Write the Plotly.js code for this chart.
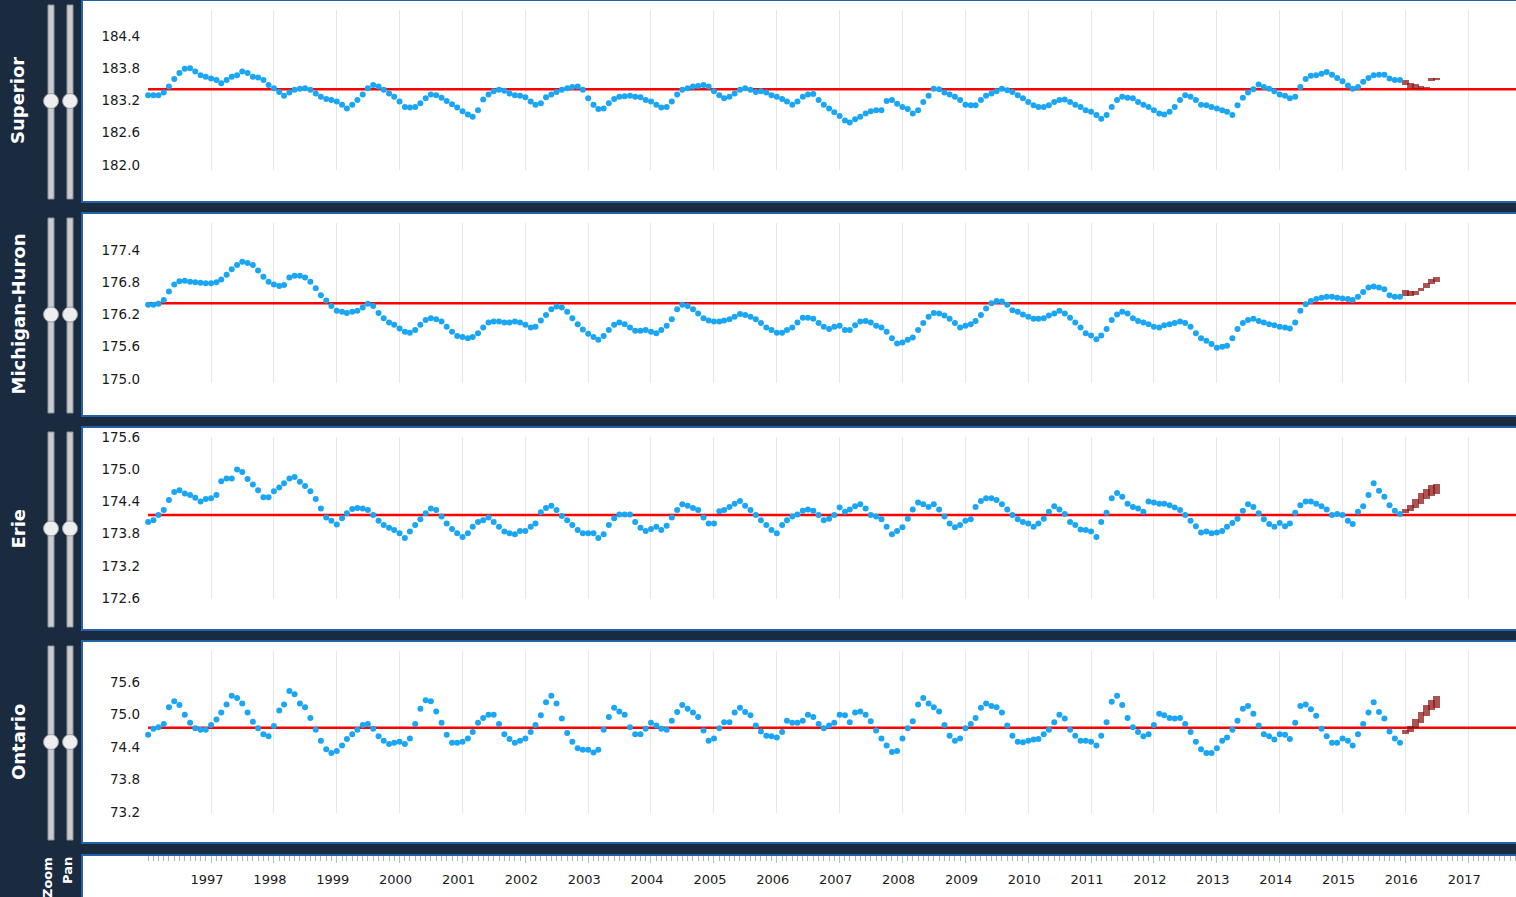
<!DOCTYPE html>
<html><head><meta charset="utf-8">
<script src="https://cdn.plot.ly/plotly-3.0.1.min.js"></script>
<style>html,body{margin:0;padding:0;background:#1b2b3f;overflow:hidden}#chart{width:1516px;height:897px}</style>
</head><body><div id="chart"></div>
<script>
// ---------------- DATA ----------------
const lakeNames = ['Superior', 'Michigan-Huron', 'Erie', 'Ontario'];
const firstYear = 1996;            // monthly observations, Jan 1996 - Dec 2015
const axisEnd = '2017-10-05';
const yearTicks = [1997,1998,1999,2000,2001,2002,2003,2004,2005,2006,2007,2008,2009,2010,2011,2012,2013,2014,2015,2016,2017];
const longTermAverage = [183.41, 176.41, 174.15, 74.76];

const superior = [
183.30,183.30,183.30,183.35,183.46,183.60,183.71,183.79,183.80,183.74,183.67,183.64,
183.61,183.58,183.52,183.58,183.64,183.67,183.74,183.71,183.64,183.63,183.58,183.49,
183.43,183.36,183.29,183.35,183.40,183.42,183.43,183.40,183.33,183.27,183.23,183.21,
183.18,183.12,183.05,183.12,183.21,183.31,183.43,183.49,183.46,183.40,183.33,183.27,
183.18,183.08,183.07,183.08,183.15,183.24,183.31,183.30,183.25,183.19,183.13,183.07,
183.00,182.94,182.90,183.02,183.22,183.31,183.37,183.40,183.38,183.33,183.30,183.29,
183.26,183.18,183.12,183.15,183.26,183.31,183.36,183.40,183.43,183.45,183.46,183.40,
183.24,183.12,183.04,183.05,183.15,183.23,183.27,183.28,183.29,183.27,183.26,183.21,
183.18,183.12,183.07,183.08,183.18,183.31,183.40,183.43,183.46,183.47,183.49,183.46,
183.37,183.30,183.24,183.27,183.33,183.40,183.43,183.40,183.36,183.37,183.35,183.30,
183.27,183.23,183.18,183.12,183.18,183.27,183.31,183.32,183.21,183.12,183.05,182.98,
182.91,182.83,182.79,182.85,182.90,182.96,183.00,183.02,183.02,183.19,183.21,183.14,
183.08,183.04,182.96,183.02,183.17,183.29,183.42,183.41,183.35,183.31,183.27,183.21,
183.12,183.11,183.11,183.21,183.29,183.33,183.37,183.42,183.39,183.36,183.30,183.24,
183.17,183.11,183.08,183.08,183.11,183.17,183.21,183.22,183.17,183.12,183.08,183.02,
182.99,182.93,182.86,182.93,183.08,183.21,183.27,183.25,183.24,183.17,183.12,183.08,
183.02,182.96,182.94,182.99,183.08,183.21,183.30,183.27,183.21,183.12,183.11,183.08,
183.05,183.02,182.99,182.93,183.11,183.25,183.35,183.41,183.50,183.45,183.42,183.37,
183.31,183.29,183.24,183.27,183.45,183.60,183.66,183.67,183.70,183.73,183.68,183.62,
183.56,183.48,183.42,183.45,183.55,183.62,183.67,183.68,183.68,183.61,183.58,183.58];

const michiganHuron = [
176.38,176.38,176.40,176.47,176.63,176.76,176.82,176.83,176.81,176.80,176.79,176.78,
176.78,176.80,176.85,176.94,177.04,177.12,177.18,177.16,177.12,177.02,176.90,176.81,
176.76,176.73,176.75,176.89,176.92,176.92,176.89,176.81,176.69,176.56,176.46,176.36,
176.27,176.25,176.23,176.25,176.27,176.33,176.40,176.36,176.23,176.13,176.05,176.01,
175.94,175.88,175.86,175.91,176.01,176.10,176.13,176.11,176.07,175.97,175.88,175.80,
175.78,175.76,175.78,175.85,175.96,176.05,176.07,176.07,176.05,176.05,176.07,176.05,
176.01,175.96,175.97,176.09,176.19,176.30,176.35,176.33,176.25,176.13,176.02,175.92,
175.84,175.78,175.73,175.80,175.91,176.01,176.05,176.02,175.96,175.90,175.90,175.91,
175.88,175.85,175.91,175.99,176.11,176.30,176.38,176.36,176.30,176.22,176.13,176.09,
176.07,176.07,176.09,176.11,176.16,176.21,176.19,176.16,176.11,176.04,175.96,175.91,
175.86,175.86,175.91,175.96,176.05,176.14,176.14,176.12,176.04,175.97,175.93,175.97,
175.99,175.91,175.91,176.00,176.07,176.08,176.05,175.99,175.96,175.88,175.76,175.66,
175.68,175.73,175.77,175.91,176.04,176.16,176.23,176.22,176.18,176.12,176.04,175.96,
175.99,176.02,176.08,176.19,176.31,176.41,176.45,176.44,176.38,176.28,176.25,176.20,
176.16,176.12,176.12,176.13,176.18,176.22,176.27,176.22,176.14,176.05,175.96,175.85,
175.81,175.74,175.81,175.93,176.10,176.20,176.25,176.22,176.13,176.08,176.05,176.02,
175.97,175.96,176.00,176.02,176.04,176.07,176.04,175.97,175.85,175.76,175.71,175.65,
175.58,175.60,175.62,175.76,175.93,176.04,176.10,176.12,176.08,176.05,176.02,176.00,
175.97,175.96,175.94,176.05,176.27,176.39,176.45,176.49,176.51,176.53,176.53,176.51,
176.50,176.49,176.47,176.53,176.62,176.70,176.72,176.70,176.67,176.56,176.53,176.53];

const erie = [
174.02,174.05,174.15,174.24,174.43,174.58,174.61,174.55,174.52,174.47,174.40,174.45,
174.46,174.52,174.78,174.83,174.83,175.00,174.95,174.82,174.72,174.61,174.48,174.48,
174.59,174.66,174.74,174.83,174.86,174.77,174.69,174.59,174.45,174.27,174.10,174.04,
173.97,174.09,174.18,174.26,174.28,174.27,174.24,174.15,174.04,173.96,173.91,173.87,
173.81,173.72,173.84,173.96,174.07,174.18,174.27,174.24,174.12,173.99,173.89,173.81,
173.74,173.81,173.93,174.02,174.05,174.10,174.02,173.93,173.84,173.81,173.79,173.85,
173.85,173.93,173.99,174.20,174.28,174.32,174.24,174.13,174.05,173.96,173.87,173.81,
173.81,173.81,173.72,173.79,173.96,174.09,174.16,174.16,174.16,174.02,173.91,173.85,
173.89,173.93,173.87,173.95,174.10,174.24,174.35,174.32,174.28,174.24,174.10,173.99,
173.99,174.22,174.24,174.30,174.36,174.41,174.32,174.24,174.15,174.05,173.96,173.87,
173.81,173.96,174.05,174.12,174.16,174.23,174.25,174.23,174.15,174.05,174.08,174.15,
174.29,174.21,174.25,174.31,174.35,174.27,174.15,174.12,174.07,173.93,173.79,173.85,
173.92,174.08,174.25,174.38,174.35,174.30,174.35,174.25,174.12,173.99,173.92,173.96,
174.04,174.07,174.30,174.41,174.46,174.46,174.43,174.35,174.25,174.15,174.07,174.02,
173.99,173.93,173.99,174.08,174.21,174.31,174.25,174.17,174.02,173.96,173.88,173.87,
173.84,173.74,174.02,174.19,174.46,174.56,174.49,174.36,174.30,174.27,174.21,174.40,
174.38,174.36,174.36,174.33,174.29,174.24,174.15,174.04,173.94,173.82,173.84,173.81,
173.82,173.85,173.93,174.00,174.08,174.23,174.35,174.30,174.18,174.07,173.98,173.93,
174.00,173.94,173.99,174.19,174.33,174.40,174.40,174.36,174.31,174.25,174.15,174.17,
174.15,174.04,173.98,174.21,174.31,174.52,174.74,174.60,174.49,174.33,174.23,174.17];

const ontario = [
74.63,74.74,74.77,74.83,75.14,75.25,75.18,75.00,74.85,74.75,74.72,74.72,
74.81,74.91,75.04,75.19,75.35,75.31,75.21,75.04,74.87,74.75,74.64,74.60,
74.79,75.08,75.19,75.44,75.38,75.21,75.14,74.94,74.72,74.52,74.36,74.29,
74.33,74.43,74.55,74.64,74.72,74.81,74.83,74.74,74.60,74.52,74.46,74.48,
74.50,74.46,74.56,74.83,75.11,75.27,75.25,75.06,74.85,74.63,74.48,74.48,
74.50,74.56,74.68,74.85,74.94,75.00,75.00,74.83,74.64,74.55,74.48,74.52,
74.56,74.68,74.81,74.99,75.23,75.35,75.21,74.93,74.66,74.50,74.38,74.35,
74.35,74.30,74.35,74.72,74.96,75.13,75.06,75.00,74.77,74.64,74.64,74.74,
74.85,74.80,74.74,74.72,74.89,75.05,75.18,75.11,75.04,74.96,74.71,74.52,
74.56,74.75,74.86,74.86,75.04,75.13,75.05,74.99,74.80,74.69,74.61,74.60,
74.58,74.68,74.89,74.85,74.85,74.89,75.00,74.96,74.83,74.75,74.80,74.85,
75.00,74.99,74.86,75.04,75.06,75.00,74.88,74.71,74.56,74.43,74.31,74.33,
74.56,74.75,74.88,75.19,75.31,75.21,75.14,75.06,74.81,74.61,74.52,74.56,
74.75,74.83,74.94,75.13,75.21,75.16,75.14,75.04,74.80,74.61,74.50,74.49,
74.52,74.54,74.55,74.64,74.72,74.86,75.00,74.93,74.72,74.61,74.52,74.52,
74.50,74.43,74.61,74.86,75.24,75.35,75.18,74.94,74.77,74.68,74.60,74.64,
74.81,75.02,74.99,74.94,74.93,74.94,74.83,74.68,74.50,74.36,74.29,74.29,
74.38,74.52,74.58,74.72,74.89,75.11,75.16,75.02,74.80,74.64,74.60,74.54,
74.64,74.63,74.55,74.85,75.16,75.19,75.10,74.98,74.74,74.60,74.48,74.48,
74.56,74.52,74.43,74.64,74.83,75.04,75.23,75.05,74.93,74.69,74.56,74.48];

// forecast ranges (Jan - Jul 2016)
const forecastMonths = ['2016-01-01','2016-02-01','2016-03-01','2016-04-01','2016-05-01','2016-06-01','2016-07-01'];
const superiorForecastLow  = [183.48,183.44,183.42,183.41,183.43,183.57,183.58];
const superiorForecastHigh = [183.58,183.53,183.50,183.47,183.46,183.61,183.61];
const michiganHuronForecastLow  = [176.55,176.55,176.57,176.63,176.70,176.76,176.80];
const michiganHuronForecastHigh = [176.65,176.64,176.64,176.70,176.78,176.86,176.90];
const erieForecastLow  = [174.18,174.22,174.28,174.35,174.44,174.50,174.55];
const erieForecastHigh = [174.26,174.33,174.45,174.56,174.64,174.70,174.72];
const ontarioForecastLow  = [74.64,74.68,74.75,74.85,74.98,75.08,75.12];
const ontarioForecastHigh = [74.72,74.80,74.92,75.05,75.18,75.28,75.34];

// ---------------- LAYOUT HELPERS ----------------
const W = 1516, H = 897;
const fx = x => x / W;
const fy = y => 1 - y / H;
const NAVY = '#1b2b3f', BORDER = '#2162ab', DOT = '#1aa6f5';
const FONT = 'DejaVu Sans, Verdana, sans-serif';

const series = [superior, michiganHuron, erie, ontario];
const fLow = [superiorForecastLow, michiganHuronForecastLow, erieForecastLow, ontarioForecastLow];
const fHigh = [superiorForecastHigh, michiganHuronForecastHigh, erieForecastHigh, ontarioForecastHigh];

const panels = [[0,202],[213,416],[427,630],[641,843]];   // pixel y extents of white panels
const gridBands = [[10,170],[223,383],[437,599],[651,813]];
const yRanges = [[181.907,184.884],[174.926,177.902],[172.581,175.605],[73.181,76.18]];
const yTick0 = [182.0, 175.0, 172.6, 73.2];

const dates = series[0].map((_, i) => {
  const y = firstYear + Math.floor(i / 12), m = (i % 12) + 1;
  return y + '-' + (m < 10 ? '0' + m : m) + '-01';
});

const traces = [];
const shapes = [];
const annotations = [];
const layout = {
  width: W, height: H,
  margin: {l:0, r:0, t:0, b:0},
  paper_bgcolor: NAVY, plot_bgcolor: 'rgba(0,0,0,0)',
  showlegend: false,
  font: {family: FONT, color: '#1a1a1a', size: 13},
  xaxis: {
    type: 'date', domain: [fx(148.1), 1], range: ['1996-01-01', axisEnd],
    anchor: 'free', position: fy(855), side: 'bottom',
    showgrid: true, gridcolor: '#e7e7e7', gridwidth: 1,
    tickmode: 'array', tickvals: yearTicks.map(y => y + '-01-01'), ticktext: yearTicks.map(String),
    ticks: 'outside', ticklen: 7, tickcolor: '#a7c3e2', tickwidth: 1,
    minor: {tickmode: 'linear', tick0: '1996-01-01', dtick: 'M1', ticks: 'outside', ticklen: 5, tickcolor: '#b4b4b4', showgrid: false},
    showline: false, zeroline: false,
    tickfont: {size: 13, color: '#1a1a1a', family: FONT}, ticklabelstandoff: 5, ticklabelshift: -4,
    fixedrange: true
  },
  bargap: 0
};

// white panels
panels.concat([[855, 900]]).forEach(([t, b]) => {
  shapes.push({type:'rect', xref:'paper', yref:'paper', layer:'below',
    x0: fx(82), x1: fx(1520), y0: fy(b), y1: fy(t),
    fillcolor:'#ffffff', line:{color: BORDER, width: 2}});
});

series.forEach((vals, k) => {
  const ya = k === 0 ? 'y' : 'y' + (k + 1);
  const axName = k === 0 ? 'yaxis' : 'yaxis' + (k + 1);
  const [gt, gb] = gridBands[k];
  layout[axName] = {
    domain: [fy(gb), fy(gt)], range: yRanges[k], anchor: 'x',
    tickmode: 'linear', tick0: yTick0[k], dtick: 0.6, tickformat: '.1f',
    showgrid: false, zeroline: false, showline: false, ticks: '',
    ticklabelstandoff: 7, tickfont: {size: 13.5, color: '#1a1a1a', family: FONT}, fixedrange: true
  };
  // long-term average
  shapes.push({type:'line', xref:'x', yref: ya, layer:'between',
    x0: dates[0], x1: axisEnd, y0: longTermAverage[k], y1: longTermAverage[k],
    line:{color:'#ff0000', width: 2.5}});
  // observed monthly levels
  traces.push({type:'scatter', mode:'markers', x: dates, y: vals, xaxis:'x', yaxis: ya,
    marker:{size: 6, color: DOT, line:{width:0}}, cliponaxis: false, hoverinfo:'skip'});
  // forecast range
  traces.push({type:'bar', x: forecastMonths, base: fLow[k],
    y: fHigh[k].map((h, i) => h - fLow[k][i]), xaxis:'x', yaxis: ya,
    width: 3.5e9, marker:{color:'rgba(138,18,18,0.72)', line:{width:0}}, hoverinfo:'skip'});

  // side controls
  const [pt, pb] = panels[k];
  const mid = (pt + pb) / 2;
  [51, 70].forEach(cx => {
    shapes.push({type:'rect', xref:'paper', yref:'paper', layer:'below',
      x0: fx(cx - 3), x1: fx(cx + 3), y0: fy(pb - 3), y1: fy(pt + 5),
      fillcolor:'#c9cbcd', line:{color:'#8d939a', width:1}});
    shapes.push({type:'circle', xref:'paper', yref:'paper', layer:'above',
      x0: fx(cx - 7.5), x1: fx(cx + 7.5), y0: fy(mid + 7.5), y1: fy(mid - 7.5),
      fillcolor:'#eeeeee', line:{color:'#9a9a9a', width:1}});
  });
  annotations.push({xref:'paper', yref:'paper', x: fx(18), y: fy(mid), text: lakeNames[k],
    textangle: -90, showarrow:false, xanchor:'center', yanchor:'middle',
    font:{size: 18, color:'#ffffff', family: FONT, weight: 'bold'}});
});

annotations.push({xref:'paper', yref:'paper', x: fx(47), y: fy(878), text:'Zoom', textangle:-90,
  showarrow:false, xanchor:'center', yanchor:'middle',
  font:{size:13, color:'#ffffff', family: FONT, weight:'bold'}});
annotations.push({xref:'paper', yref:'paper', x: fx(67), y: fy(871), text:'Pan', textangle:-90,
  showarrow:false, xanchor:'center', yanchor:'middle',
  font:{size:13, color:'#ffffff', family: FONT, weight:'bold'}});

layout.shapes = shapes;
layout.annotations = annotations;

Plotly.newPlot('chart', traces, layout, {displayModeBar: false, staticPlot: true});
</script>
</body></html>
